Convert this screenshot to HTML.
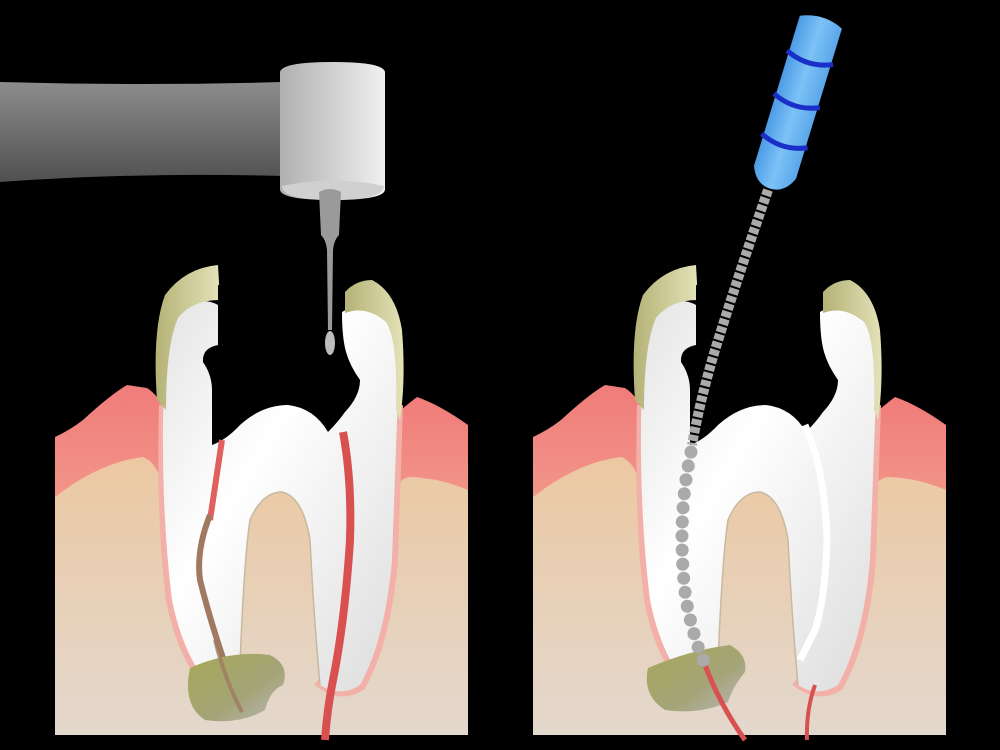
<!DOCTYPE html>
<html><head><meta charset="utf-8"><style>html,body{margin:0;padding:0;background:#000;width:1000px;height:750px;overflow:hidden}</style></head>
<body>
<svg width="1000" height="750" viewBox="0 0 1000 750" xmlns="http://www.w3.org/2000/svg">
<defs>
<linearGradient id="gBone" x1="0" y1="0" x2="0" y2="1"><stop offset="0" stop-color="#ecc8a2"/><stop offset="1" stop-color="#e3d8cd"/></linearGradient>
<linearGradient id="gGum" x1="0" y1="0" x2="0" y2="1"><stop offset="0" stop-color="#f07c7a"/><stop offset="1" stop-color="#f29a8c"/></linearGradient>
<linearGradient id="gBar" x1="0" y1="0" x2="0" y2="1"><stop offset="0" stop-color="#8c8c8c"/><stop offset="1" stop-color="#505050"/></linearGradient>
<linearGradient id="gHead" x1="0" y1="0" x2="1" y2="0"><stop offset="0" stop-color="#b0b0b0"/><stop offset="1" stop-color="#f0f0f0"/></linearGradient>
<linearGradient id="gTooth" x1="0" y1="0" x2="1" y2="1"><stop offset="0" stop-color="#e4e4e4"/><stop offset="0.4" stop-color="#ffffff"/><stop offset="1" stop-color="#dcdcdc"/></linearGradient>
<linearGradient id="gBlue" x1="0" y1="0" x2="1" y2="0"><stop offset="0" stop-color="#4c9be6"/><stop offset="0.5" stop-color="#7cc2f6"/><stop offset="1" stop-color="#5aa6ea"/></linearGradient>
<linearGradient id="gCap" x1="0" y1="0" x2="1" y2="0"><stop offset="0" stop-color="#b4b276"/><stop offset="1" stop-color="#e4e2b8"/></linearGradient>
<linearGradient id="gBlob" x1="0" y1="0" x2="1" y2="1"><stop offset="0" stop-color="#a8a858"/><stop offset="0.6" stop-color="#a4a478"/><stop offset="1" stop-color="#b8b8b8"/></linearGradient>
<g id="base">
<path d="M55 437 Q70 430 83 420 Q110 395 127 385 L147 388 Q158 395 165 410 L165 520 L55 520 Z" fill="url(#gGum)"/>
<path d="M390 420 Q400 410 417 397 Q440 405 468 425 L468 520 L390 520 Z" fill="url(#gGum)"/>
<path d="M55 497 Q100 462 143 457 Q158 462 163 490 L395 490 Q400 478 410 477 Q440 478 468 490 L468 735 L55 735 Z" fill="url(#gBone)"/>
<path d="M165 405 Q162 520 172 600 Q182 650 205 680 Q225 690 238 670" fill="none" stroke="#f2b0a8" stroke-width="12"/>
<path d="M318 680 Q340 698 360 685 Q385 640 392 560 L397 405" fill="none" stroke="#f2b0a8" stroke-width="12"/>
<path d="M218 305 Q200 295 180 310 Q165 330 163 420 Q162 520 172 600 Q182 650 205 680 Q225 690 240 665 Q244 560 250 520 Q262 492 282 492 Q303 497 310 540 Q314 620 320 685 Q340 698 360 685 Q385 640 392 560 L397 420 Q400 340 385 320 Q360 300 342 312 Z" fill="url(#gTooth)"/>
<path d="M240 665 Q244 560 250 520 Q262 492 282 492 Q303 497 310 540 Q314 620 320 685" fill="none" stroke="#c8b8a0" stroke-width="1.5"/>
<path d="M157 400 Q152 330 165 295 Q185 268 218 265 L220 300 Q192 300 178 318 Q166 345 166 410 Z" fill="url(#gCap)"/>
<path d="M345 292 Q356 280 372 280 Q396 292 402 330 Q406 380 400 420 L396 410 Q398 340 386 322 Q366 305 345 313 Z" fill="url(#gCap)"/>
<path d="M218 285 L218 345 Q202 348 203 362 Q212 375 212 390 L212 445 Q226 440 240 425 Q262 405 288 405 Q314 408 328 432 Q338 422 345 412 Q360 396 360 380 Q350 366 346 352 Q340 330 343 285 Z" fill="#000"/>
</g>
</defs>

<!-- LEFT PANEL -->
<use href="#base"/>
<path d="M222 440 Q216 480 210 520" stroke="#e06060" stroke-width="6" fill="none"/>
<path d="M210 515 Q196 550 200 580 Q215 640 240 705" stroke="#a07a60" stroke-width="6" fill="none"/>
<path d="M190 668 Q230 650 270 655 Q290 665 283 685 Q270 690 265 710 Q240 725 205 720 Q182 705 190 668 Z" fill="url(#gBlob)"/>
<path d="M215 640 Q225 680 242 712" stroke="#a07a60" stroke-width="4" fill="none" opacity="0.8"/>
<path d="M343 432 Q352 480 350 540 Q345 620 333 680 Q327 710 325 740" stroke="#d85050" stroke-width="8" fill="none"/>

<!-- handpiece -->
<path d="M0 82 Q140 86 282 82 L282 176 Q140 172 0 182 Z" fill="url(#gBar)"/>
<path d="M280 72 Q282 62 333 62 Q383 62 385 72 L385 190 Q383 200 333 200 Q282 200 280 190 Z" fill="url(#gHead)"/>
<path d="M282 186 Q333 175 384 186 Q383 200 333 200 Q282 200 282 186 Z" fill="#d0d0d0"/>
<path d="M319 192 Q330 186 341 192 L339 235 Q334 240 333 250 L332 330 L328 330 L327 250 Q326 240 321 235 Z" fill="#9a9a9a"/>
<ellipse cx="330" cy="343" rx="5" ry="12" fill="#bdbdbd"/>

<!-- RIGHT PANEL -->
<use href="#base" x="478"/>
<path d="M805 425 Q825 470 827 540 Q825 600 815 630 Q805 650 800 660" stroke="#ffffff" stroke-width="7" fill="none"/>
<path d="M648 668 Q690 650 730 645 Q748 655 745 672 Q732 688 728 702 Q700 715 665 710 Q642 695 648 668 Z" fill="url(#gBlob)"/>
<path d="M705 665 Q720 705 745 740" stroke="#d85050" stroke-width="5" fill="none"/>
<path d="M815 685 Q806 710 807 740" stroke="#d85050" stroke-width="4" fill="none"/>
<!-- file shaft -->
<path d="M768 190 Q740 270 715 350 Q700 400 692 445" stroke="#aaa" stroke-width="10" stroke-dasharray="6 2" fill="none"/>
<path d="M691 452 Q676 520 686 600 Q694 640 704 662" stroke="#aaa" stroke-width="13" stroke-dasharray="0.1 14" stroke-linecap="round" fill="none"/>
<!-- handle -->
<g transform="rotate(17 795 100)">
<path d="M775 18 Q797 8 819 18 L819 175 Q812 192 797 192 Q782 192 775 175 Z" fill="url(#gBlue)"/>
<path d="M773 55 Q797 66 821 55 M773 100 Q797 111 821 100 M773 142 Q797 153 821 142" stroke="#1a2fc8" stroke-width="5" fill="none"/>
</g>
</svg>
</body></html>
